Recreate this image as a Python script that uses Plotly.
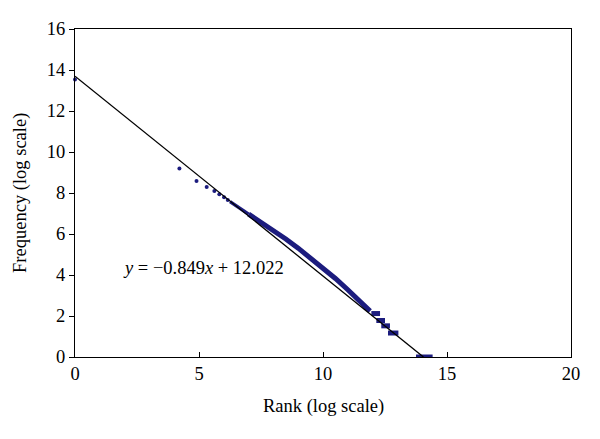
import plotly.graph_objects as go

# values (log rank vs log frequency)
sparse_x = [0.0, 4.21, 4.90, 5.31, 5.62, 5.82, 6.01, 6.16]
sparse_y = [13.54, 9.20, 8.58, 8.29, 8.10, 7.94, 7.79, 7.66]

dense_x = [6.25, 6.5, 7.0, 7.5, 8.0, 8.5, 9.0, 9.5, 10.0, 10.5, 11.0, 11.5, 11.9]
dense_y = [7.58, 7.38, 6.97, 6.58, 6.18, 5.76, 5.31, 4.84, 4.35, 3.83, 3.28, 2.70, 2.24]

step_start = [11.95, 12.15, 12.35, 12.62, 13.75]
step_end = [12.30, 12.50, 12.70, 13.04, 14.42]
step_y = [2.12, 1.78, 1.52, 1.17, 0.0]

fit_x = [0.0, 14.05]
fit_y = [13.7, 0.0]

equation = "<i>y</i> = \u22120.849<i>x</i> + 12.022"
x_title = "Rank (log scale)"
y_title = "Frequency (log scale)"

NAVY = "#1c1c7e"
FONT = "Liberation Serif"
FS = 18.5

fig = go.Figure()

# thin start of the dense band, then the thicker part
fig.add_trace(go.Scatter(
    x=dense_x[:3], y=dense_y[:3], mode="lines",
    line=dict(color=NAVY, width=3.5), showlegend=False,
))
fig.add_trace(go.Scatter(
    x=dense_x[2:], y=dense_y[2:], mode="lines",
    line=dict(color=NAVY, width=5), showlegend=False,
))

seg_x, seg_y = [], []
for a, b, v in zip(step_start, step_end, step_y):
    seg_x += [a, b, None]
    seg_y += [v, v, None]
fig.add_trace(go.Scatter(
    x=seg_x, y=seg_y, mode="lines",
    line=dict(color=NAVY, width=5), showlegend=False,
))

fig.add_trace(go.Scatter(
    x=sparse_x, y=sparse_y, mode="markers",
    marker=dict(color=NAVY, size=4), showlegend=False, cliponaxis=False,
))

fig.add_trace(go.Scatter(
    x=fit_x, y=fit_y, mode="lines",
    line=dict(color="black", width=1.3), showlegend=False,
))

fig.add_annotation(
    x=5.2, y=4.34, text=equation, showarrow=False,
    font=dict(family=FONT, size=FS, color="black"),
)
# axis titles placed by hand so plotly does not push the margins around
fig.add_annotation(
    x=0.5, y=-0.152, xref="paper", yref="paper", text=x_title,
    showarrow=False, yanchor="middle",
    font=dict(family=FONT, size=FS, color="black"),
)
fig.add_annotation(
    x=-0.111, y=0.5, xref="paper", yref="paper", text=y_title,
    showarrow=False, textangle=-90, xanchor="center",
    font=dict(family=FONT, size=FS, color="black"),
)

axis_common = dict(
    showgrid=False, zeroline=False, showline=True, linecolor="black",
    linewidth=1.3, mirror=True, ticklen=5, tickcolor="black",
    automargin=False,
    tickfont=dict(family=FONT, size=FS, color="black"),
)

fig.update_layout(
    width=600, height=439,
    paper_bgcolor="white", plot_bgcolor="white",
    margin=dict(l=75, r=29, t=29, b=82),
    font=dict(family=FONT, size=FS, color="black"),
    xaxis=dict(range=[0, 20], dtick=5, ticks="inside", **axis_common),
    yaxis=dict(range=[0, 16], dtick=2, ticks="outside", **axis_common),
)

# drop the browser's default 8px body margin so the figure sits at 0,0
fig.write_html(
    "out.html",
    config={"displayModeBar": False},
    post_script="document.body.style.margin='0';",
)
